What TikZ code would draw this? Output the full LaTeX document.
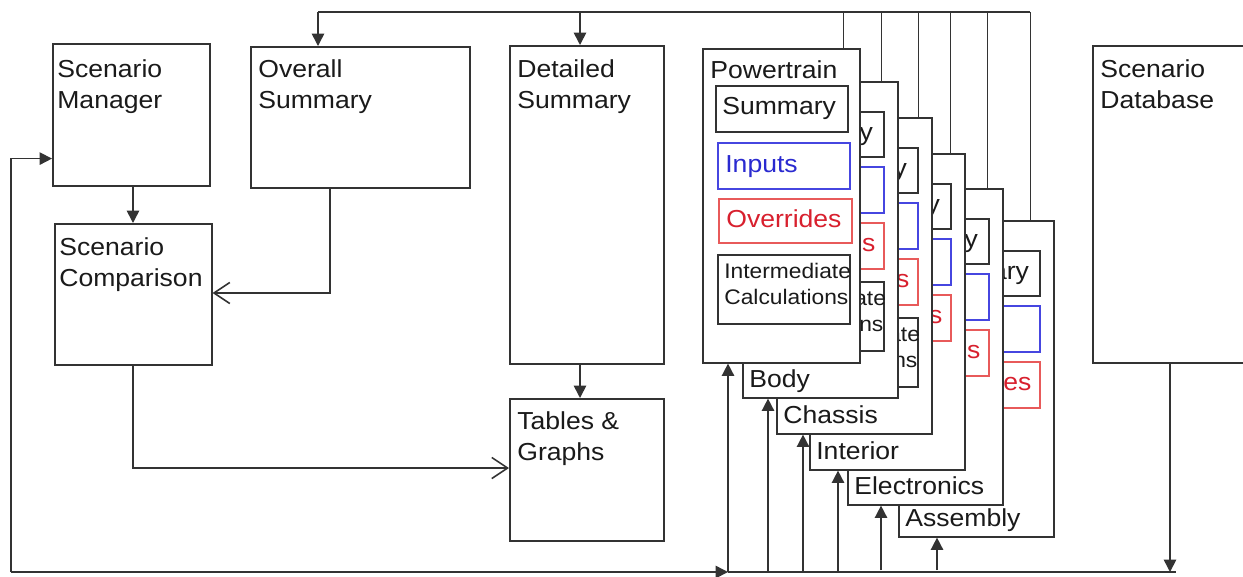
\documentclass[tikz,border=0pt]{standalone}
\usepackage{fontspec}
\setmainfont{Liberation Sans}[FakeStretch=1.08]
\usetikzlibrary{calc,arrows.meta}
\definecolor{boxc}{HTML}{333333}
\definecolor{txtc}{HTML}{1A1A1A}
\definecolor{bluec}{HTML}{4646E0}
\definecolor{bluet}{HTML}{2A2AD0}
\definecolor{redc}{HTML}{E85A5A}
\definecolor{redt}{HTML}{D8202E}
\newcommand\pxu{0.02cm}
\tikzset{
 box/.style={draw=boxc, line width=0.9pt, fill=white, inner sep=0pt, anchor=north west},
 bluebox/.style={box, draw=bluec},
 redbox/.style={box, draw=redc},
 wh/.style 2 args={minimum width=#1*\pxu, minimum height=#2*\pxu},
 lbl/.style={anchor=base west, inner sep=0pt, align=left, text=txtc, font=\fontsize{14}{17.6}\selectfont},
 small/.style={font=\fontsize{12}{14.7}\selectfont},
 wire/.style={draw=boxc, line width=0.9pt},
 fa/.style={wire, -{Triangle[length=7pt,width=7pt]}},
 oa/.style={wire, -{Straight Barb[length=9pt,width=12pt]}},
}
\newcommand\mkcard[4]{%
 \node[box, wh={155}{316}] (#1) at (#2,#3) {};
 \node[box, wh={131}{45}] (#1s) at ($(#1.north west)+(10,30)$) {};
 \node[lbl] (#1st) at ($(#1s.north west)+(7,29)$) {Summary};
 \node[bluebox, wh={131}{46}] (#1i) at ($(#1.north west)+(10,85)$) {};
 \node[lbl, text=bluet] (#1it) at ($(#1i.north west)+(8,30)$) {Inputs};
 \node[redbox, wh={131}{46}] (#1o) at ($(#1.north west)+(10,141)$) {};
 \node[lbl, text=redt] (#1ot) at ($(#1o.north west)+(8,29)$) {Overrides};
 \node[lbl] (#1l) at ($(#1.south west)+(7,-11)$) {#4};
}
\newcommand\mkcalc[1]{%
 \node[box, wh={131}{69}] (#1c) at ($(#1.north west)+(10,200)$) {};
 \node[lbl, small] (#1ct) at ($(#1c.north west)+(7,50)$) {Intermediate\\Calculations};
}
\begin{document}
\begin{tikzpicture}[x=0.02cm, y=-0.02cm]
\useasboundingbox (0,0) rectangle (1243,576);
\fill[white] (0,0) rectangle (1243,576);

% left column
\node[box, wh={157}{142}] (sm) at (52,43) {};
\node[lbl] (smt) at ($(sm.north west)+(5,65)$) {Scenario\\Manager};
\node[box, wh={157}{141}] (sc) at (54,223) {};
\node[lbl] (sct) at ($(sc.north west)+(5,63)$) {Scenario\\Comparison};
\node[box, wh={219}{141}] (os) at (250,46) {};
\node[lbl] (ost) at ($(os.north west)+(8,62)$) {Overall\\Summary};
\node[box, wh={154}{318}] (ds) at (509,45) {};
\node[lbl] (dst) at ($(ds.north west)+(8,63)$) {Detailed\\Summary};
\node[box, wh={154}{142}] (tg) at (509,398) {};
\node[lbl] (tgt) at ($(tg.north west)+(8,62)$) {Tables \&\\Graphs};
\node[box, wh={170}{317}] (db) at (1092,45) {};
\node[lbl] (dbt) at ($(db.north west)+(8,63)$) {Scenario\\Database};

% stacked cards, back to front
\mkcard{asm}{898}{220}{Assembly}
\mkcard{elec}{847}{188}{Electronics}
\mkcard{intr}{809}{153}{Interior}
\mkcard{chas}{776}{117}{Chassis}
\mkcalc{chas}
\mkcard{body}{742}{81}{Body}
\mkcalc{body}
\node[box, wh={157}{314}] (pt) at (702,48) {};
\node[lbl] (ptl) at ($(pt.north west)+(8,30)$) {Powertrain};
\node[box, wh={132}{46}] (pts) at ($(pt.north west)+(13,37)$) {};
\node[lbl] (ptst) at ($(pts.north west)+(7,29)$) {Summary};
\node[bluebox, wh={132}{46}] (pti) at ($(pt.north west)+(15,94)$) {};
\node[lbl, text=bluet] (ptit) at ($(pti.north west)+(8,30)$) {Inputs};
\node[redbox, wh={133}{44}] (pto) at ($(pt.north west)+(16,150)$) {};
\node[lbl, text=redt] (ptot) at ($(pto.north west)+(8,29)$) {Overrides};
\node[box, wh={132}{69}] (ptc) at ($(pt.north west)+(15,206)$) {};
\node[lbl, small] (ptct) at ($(ptc.north west)+(7,50)$) {Intermediate\\Calculations};

% top bus
\coordinate (topL) at (318,12);
\coordinate (topR) at (1030,12);
\coordinate (topDS) at (580,12);
\draw[wire] (topL) -- (topR);
\draw[fa] (topL) -- (topL |- os.north);
\draw[fa] (topDS) -- (topDS |- ds.north);
\coordinate (ptT) at ($(pt.north east)+(-17,0)$);
\coordinate (bodyT) at ($(body.north east)+(-17,0)$);
\coordinate (chasT) at ($(chas.north east)+(-14,0)$);
\coordinate (intrT) at ($(intr.north east)+(-15,0)$);
\coordinate (elecT) at ($(elec.north east)+(-16,0)$);
\coordinate (asmT) at ($(asm.north east)+(-24,0)$);
\foreach \c in {ptT,bodyT,chasT,intrT,elecT,asmT}
  \draw[wire] (\c) -- (\c |- topL);

% internal arrows
\coordinate (smS) at ($(sm.south west)+(81,0)$);
\draw[fa] (smS) -- (smS |- sc.north);
\coordinate (osS) at ($(os.south west)+(80,0)$);
\coordinate (scIn) at ($(sc.north east)+(0,70)$);
\draw[oa] (osS) -- (osS |- scIn) -- (scIn);
\coordinate (scS) at ($(sc.south west)+(79,0)$);
\coordinate (tgIn) at ($(tg.north west)+(0,70)$);
\draw[oa] (scS) -- (scS |- tgIn) -- (tgIn);
\coordinate (dsS) at ($(ds.south west)+(71,0)$);
\draw[fa] (dsS) -- (dsS |- tg.north);

% bottom bus
\coordinate (botL) at (11,572);
\coordinate (botR) at (1176,572);
\coordinate (smIn) at ($(sm.south west)+(0,-28)$);
\draw[fa] (botL) -- (botL |- smIn) -- (smIn);
\coordinate (ptB) at ($(pt.south west)+(26,0)$);
\draw[fa] (botL) -- (ptB |- botL);
\draw[wire] (ptB |- botL) -- (botR);
\coordinate (dbB) at ($(db.south west)+(78,0)$);
\draw[fa] (dbB) -- (dbB |- botL);
\coordinate (bodyB) at ($(body.south west)+(26,0)$);
\coordinate (chasB) at ($(chas.south west)+(27,0)$);
\coordinate (intrB) at ($(intr.south west)+(29,0)$);
\coordinate (elecB) at ($(elec.south west)+(34,0)$);
\coordinate (asmB) at ($(asm.south west)+(39,0)$);
\foreach \c in {ptB,bodyB,chasB,intrB}
  \draw[fa] (\c |- botL) -- (\c);
\draw[fa] ($(elecB |- botL)+(0,-2)$) -- (elecB);
\draw[fa] ($(asmB |- botL)+(0,-2)$) -- (asmB);
\end{tikzpicture}
\end{document}
